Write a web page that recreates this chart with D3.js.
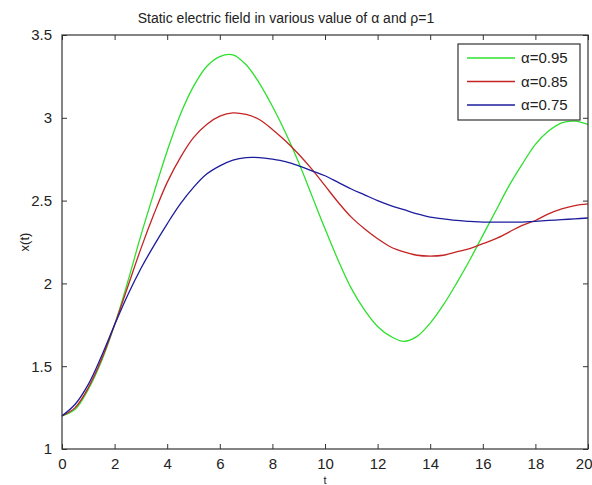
<!DOCTYPE html>
<html>
<head>
<meta charset="utf-8">
<script src="https://cdn.jsdelivr.net/npm/d3@7"></script>
<style>
  body { margin: 0; background: #fff; }
  svg { display: block; font-family: "Liberation Sans", Arial, sans-serif; }
</style>
</head>
<body>
<svg id="chart" width="592" height="485"></svg>
<script>
// sample times
const tValues = d3.range(0, 20.01, 0.5);

// x(t) for each alpha
const alpha095 = [1.20, 1.24, 1.36, 1.53, 1.75, 2.01, 2.29, 2.55, 2.80, 3.02,
  3.19, 3.31, 3.37, 3.38, 3.32, 3.21, 3.07, 2.91, 2.73, 2.53,
  2.33, 2.14, 1.97, 1.84, 1.74, 1.68, 1.65, 1.68, 1.76, 1.87,
  2.00, 2.14, 2.29, 2.44, 2.59, 2.72, 2.84, 2.92, 2.97, 2.98, 2.96];
const alpha085 = [1.20, 1.25, 1.37, 1.54, 1.75, 1.98, 2.21, 2.42, 2.61, 2.76,
  2.88, 2.96, 3.01, 3.03, 3.02, 2.99, 2.93, 2.86, 2.78, 2.69,
  2.59, 2.49, 2.40, 2.33, 2.27, 2.22, 2.19, 2.17, 2.165, 2.17,
  2.19, 2.21, 2.24, 2.27, 2.31, 2.35, 2.38, 2.42, 2.45, 2.47, 2.48];
const alpha075 = [1.20, 1.27, 1.39, 1.56, 1.75, 1.93, 2.09, 2.23, 2.36, 2.48,
  2.58, 2.66, 2.71, 2.745, 2.76, 2.76, 2.75, 2.735, 2.71, 2.68,
  2.65, 2.61, 2.57, 2.535, 2.50, 2.47, 2.445, 2.42, 2.40, 2.39,
  2.38, 2.375, 2.37, 2.37, 2.37, 2.37, 2.375, 2.38, 2.385, 2.39, 2.395];

const seriesNames = ["\u03b1=0.95", "\u03b1=0.85", "\u03b1=0.75"];
const seriesColors = ["#2ee02e", "#c42424", "#1c1c9c"];
const xTicks = d3.range(0, 21, 2);
const yTicks = [1, 1.5, 2, 2.5, 3, 3.5];

const series = [alpha095, alpha085, alpha075].map((vals, i) => ({
  name: seriesNames[i],
  color: seriesColors[i],
  points: vals.map((v, j) => ({ t: tValues[j], v: v }))
}));

const margin = { top: 35, right: 4, bottom: 36, left: 62 };
const svg = d3.select("#chart");
const width = 592 - margin.left - margin.right;
const height = 485 - margin.top - margin.bottom;

const g = svg.append("g")
  .attr("transform", `translate(${margin.left},${margin.top})`);

const x = d3.scaleLinear().domain([0, 20]).range([0, width]);
const y = d3.scaleLinear().domain([1, 3.5]).range([height, 0]);

// lines
const line = d3.line()
  .x(d => x(d.t))
  .y(d => y(d.v))
  .curve(d3.curveCatmullRom);

g.selectAll(".series")
  .data(series)
  .join("path")
  .attr("class", "series")
  .attr("fill", "none")
  .attr("stroke", d => d.color)
  .attr("stroke-width", 1.3)
  .attr("d", d => line(d.points));

// axes (ticks pointing inward, matlab style)
function styleAxis(sel) {
  sel.select(".domain").remove();
  sel.selectAll(".tick line").attr("stroke", "#333");
  sel.selectAll(".tick text")
    .attr("fill", "#222")
    .attr("font-size", 15)
    .attr("font-family", "Liberation Sans, Arial, sans-serif");
}

const fmt = d => String(d);

const xAxisG = g.append("g")
  .attr("transform", `translate(0,${height})`)
  .call(d3.axisBottom(x).tickValues(xTicks).tickFormat(fmt).tickSizeInner(-5).tickSizeOuter(0).tickPadding(9))
  .call(styleAxis);
// last label would run off the page edge; keep it inside
xAxisG.selectAll(".tick text").filter(d => d === 20).attr("text-anchor", "end").attr("dx", 4);

g.append("g")
  .call(d3.axisTop(x).tickValues(xTicks).tickSizeInner(-5).tickSizeOuter(0).tickFormat(""))
  .call(styleAxis);

g.append("g")
  .call(d3.axisLeft(y).tickValues(yTicks).tickFormat(fmt).tickSizeInner(-5).tickSizeOuter(0).tickPadding(10))
  .call(styleAxis);

g.append("g")
  .attr("transform", `translate(${width},0)`)
  .call(d3.axisRight(y).tickValues(yTicks).tickSizeInner(-5).tickSizeOuter(0).tickFormat(""))
  .call(styleAxis);

// box
g.append("rect")
  .attr("width", width)
  .attr("height", height)
  .attr("fill", "none")
  .attr("stroke", "#333")
  .attr("stroke-width", 1.2);

// title and labels
svg.append("text")
  .attr("x", 286)
  .attr("y", 23)
  .attr("text-anchor", "middle")
  .attr("font-size", 14)
  .attr("fill", "#222")
  .text("Static electric field in various value of \u03b1 and \u03c1=1");

svg.append("text")
  .attr("x", margin.left + width / 2)
  .attr("y", 484)
  .attr("text-anchor", "middle")
  .attr("font-size", 11)
  .attr("fill", "#222")
  .text("t");

svg.append("text")
  .attr("transform", `translate(29,${margin.top + height / 2}) rotate(-90)`)
  .attr("text-anchor", "middle")
  .attr("font-size", 13)
  .attr("fill", "#222")
  .text("x(t)");

// legend
const legend = svg.append("g").attr("transform", "translate(458,44)");
legend.append("rect")
  .attr("width", 122)
  .attr("height", 76)
  .attr("fill", "#fff")
  .attr("stroke", "#333")
  .attr("stroke-width", 1.2);

const item = legend.selectAll(".item")
  .data(series)
  .join("g")
  .attr("class", "item")
  .attr("transform", (d, i) => `translate(0,${14 + i * 23.5})`);

item.append("line")
  .attr("x1", 9).attr("x2", 57)
  .attr("stroke", d => d.color)
  .attr("stroke-width", 1.3);

item.append("text")
  .attr("x", 63)
  .attr("dy", "0.35em")
  .attr("font-size", 15)
  .attr("fill", "#222")
  .text(d => d.name);
</script>
</body>
</html>
